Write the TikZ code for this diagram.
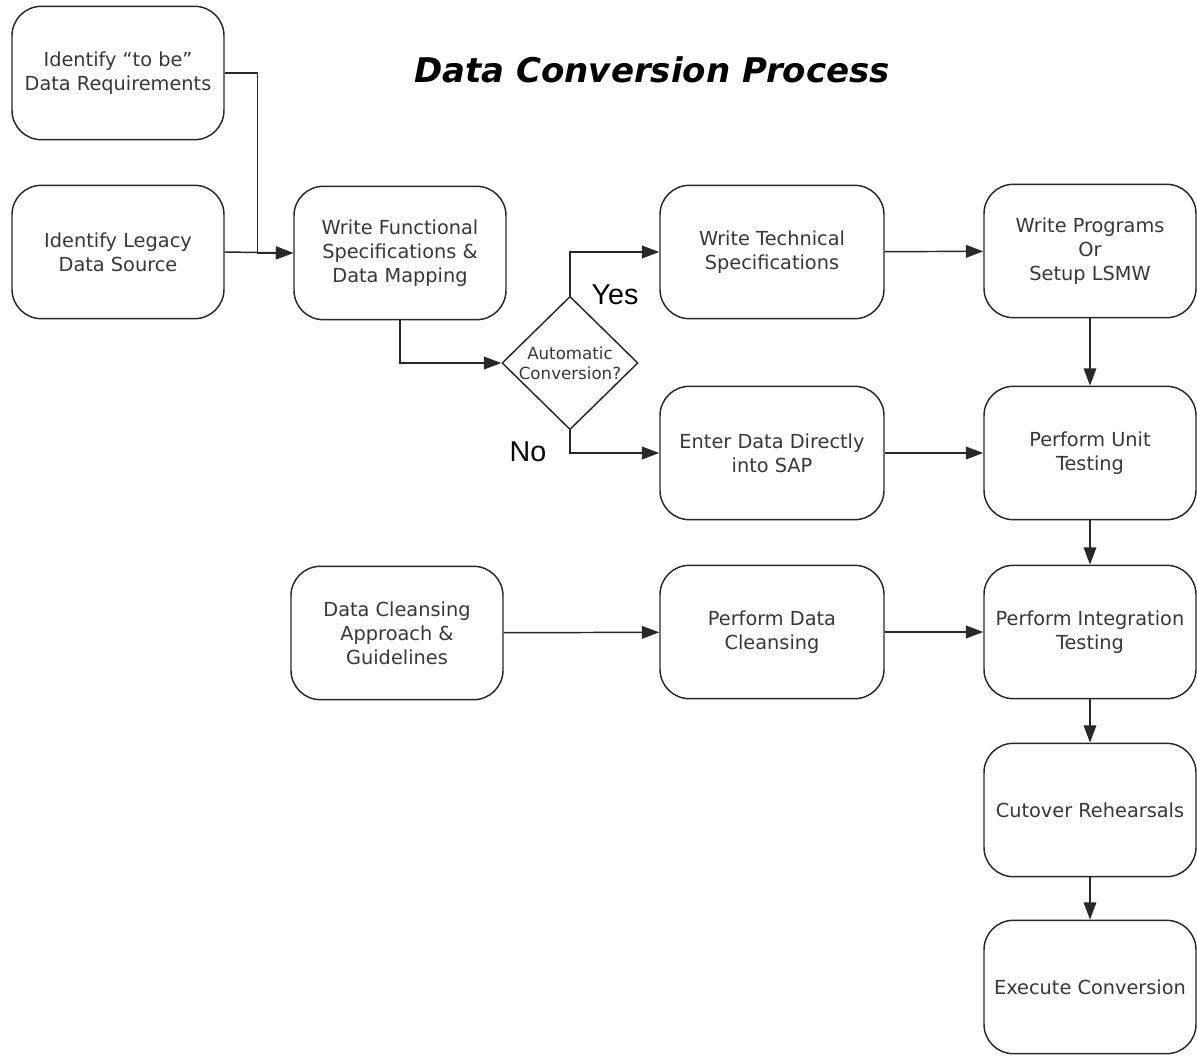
\documentclass[tikz,border=0pt]{standalone}
\usepackage{fontspec}
\setmainfont{DejaVu Sans}
\newfontfamily\labelfont{Liberation Sans}
\usepackage{xcolor}
\usepackage{tikz}
\usetikzlibrary{arrows.meta,shapes.geometric,positioning}

\definecolor{edgegray}{RGB}{40,40,40}
\definecolor{textgray}{RGB}{55,55,55}

\tikzset{
  procbox/.style={draw=edgegray,line width=1.1pt,rounded corners=22pt,
    minimum width=159pt,minimum height=100pt,align=center,text=textgray,
    font=\fontsize{14.5}{18}\selectfont},
  widebox/.style={procbox,minimum width=168pt},
  decision/.style={draw=edgegray,line width=1.1pt,diamond,inner sep=0pt,
    minimum width=102pt,minimum height=100pt},
  conn/.style={draw=edgegray,line width=1.1pt,-{Triangle[length=13pt,width=9.5pt]}},
}

\begin{document}
\begin{tikzpicture}[x=0.75pt,y=0.75pt,yscale=-1,xscale=1]
\useasboundingbox (0,0) rectangle (1197,1057);

% Title
\node (title) at (652,70) {\fontsize{25.5}{30}\selectfont\bfseries\itshape Data Conversion Process};

% Left column
\node[procbox] (tobe) at (118,73) {Identify ``to be''\\Data Requirements};
\node[procbox] (legacy) at (118,252) {Identify Legacy\\Data Source};

% Functional specs and decision
\node[procbox] (funcspec) at (400,253) {Write Functional\\Specifications \&\\Data Mapping};
\node[decision] (auto) at (570,363) {};
\node[align=center,text=textgray,font=\fontsize{12.5}{15}\selectfont] (autotxt) at (auto) {Automatic\\Conversion?};

% Middle column
\node[widebox] (techspec) at (772,252) {Write Technical\\Specifications};
\node[widebox] (enterdata) at (772,453) {Enter Data Directly\\into SAP};
\node[widebox] (cleansing) at (772,632) {Perform Data\\Cleansing};
\node[procbox] (approach) at (397,633) {Data Cleansing\\Approach \&\\Guidelines};

% Right column
\node[procbox] (programs) at (1090,251) {Write Programs\\Or\\Setup LSMW};
\node[procbox] (unittest) at (1090,453) {Perform Unit\\Testing};
\node[procbox] (integtest) at (1090,632) {Perform Integration\\Testing};
\node[procbox] (cutover) at (1090,810) {Cutover Rehearsals};
\node[procbox] (execute) at (1090,987) {Execute Conversion};

% Yes / No labels
\node[font=\labelfont\fontsize{21.5}{24}\selectfont] (yes) at (615,295) {Yes};
\node[font=\labelfont\fontsize{21.5}{24}\selectfont] (no) at (528,452) {No};

% Connectors
\draw[conn] (tobe.east) -- ++(33,0) |- (funcspec.west);
\draw[conn] (legacy.east) -- (funcspec.west);
\draw[conn] (funcspec.south) |- (auto.west);
\draw[conn] (auto.north) |- (techspec.west);
\draw[conn] (auto.south) |- (enterdata.west);
\draw[conn] (techspec) -- (programs);
\draw[conn] (enterdata) -- (unittest);
\draw[conn] (approach) -- (cleansing);
\draw[conn] (cleansing) -- (integtest);
\draw[conn] (programs) -- (unittest);
\draw[conn] (unittest) -- (integtest);
\draw[conn] (integtest) -- (cutover);
\draw[conn] (cutover) -- (execute);

\end{tikzpicture}
\end{document}
